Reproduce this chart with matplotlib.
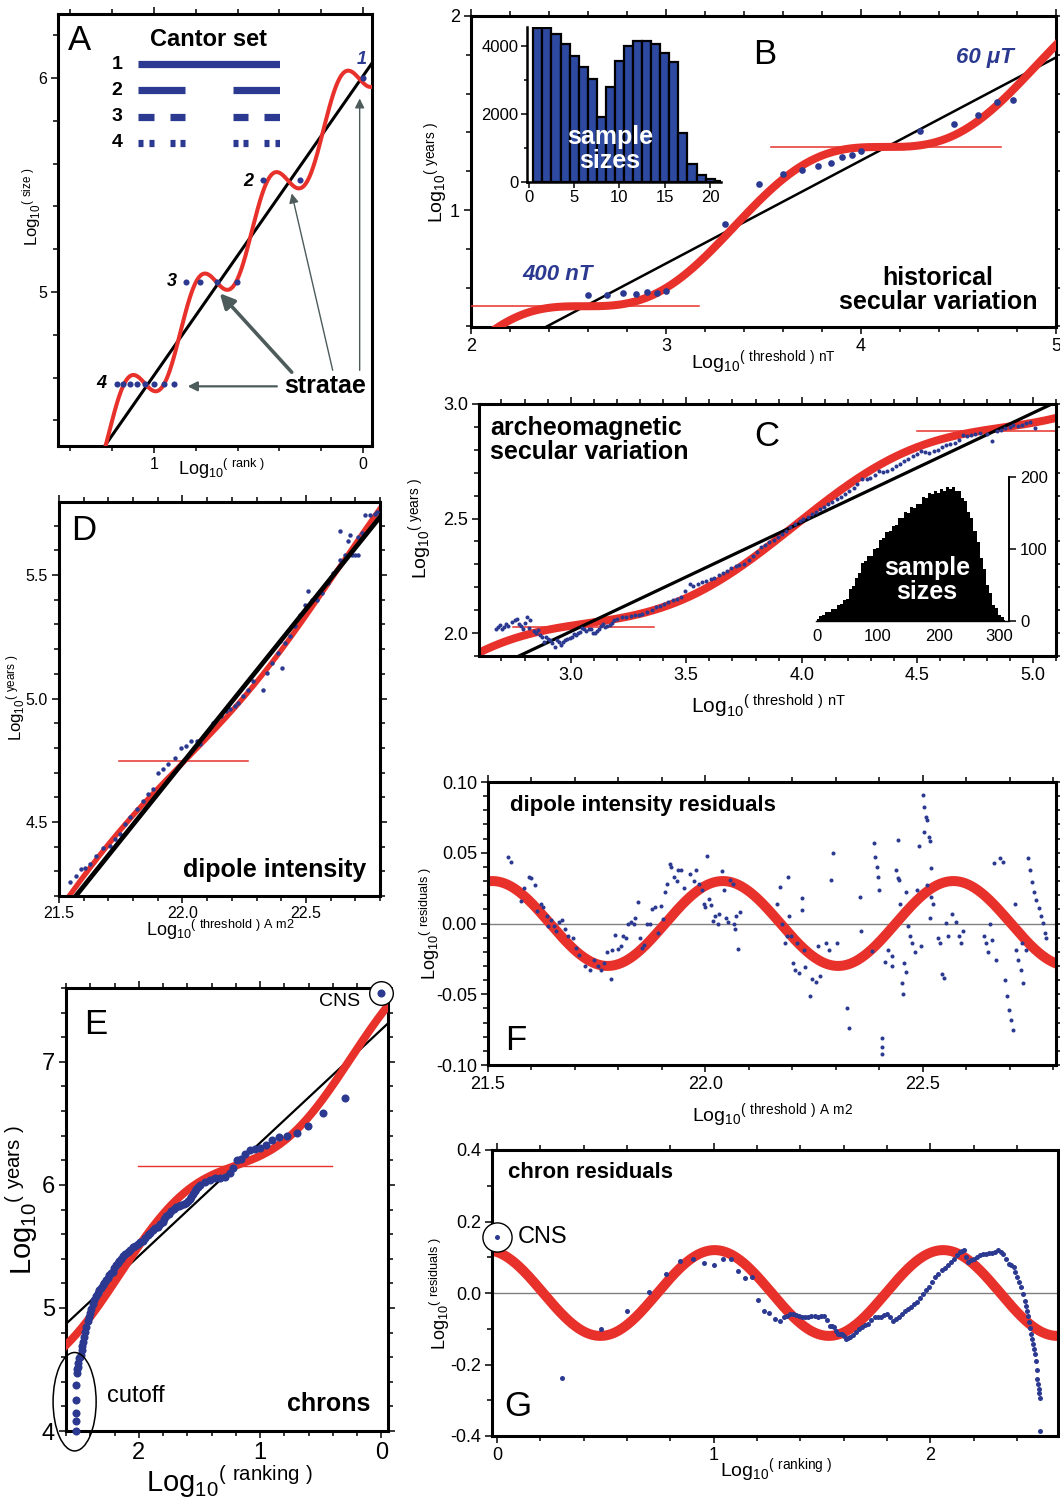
import numpy as np
import matplotlib
matplotlib.use("Agg")
import matplotlib.pyplot as plt
from matplotlib.ticker import MultipleLocator, FormatStrFormatter
from matplotlib.patches import Ellipse

plt.rcParams['font.family'] = ['Liberation Sans', 'DejaVu Sans']
plt.rcParams['mathtext.default'] = 'regular'
plt.rcParams['axes.unicode_minus'] = False

W, H = 1060, 1501
BLUE = '#2b3990'
RED = '#e8312b'
ARROW = '#4d5b5b'

# ---------------- data ----------------
# A: Cantor set rank-size
A_RANK = [1, 2, 3, 4, 5, 6, 7, 8, 9, 10, 11, 12, 13, 14, 15]
A_SIZE = [1000000, 333333, 333333, 111111, 111111, 111111, 111111,
          37037, 37037, 37037, 37037, 37037, 37037, 37037, 37037]
A_FIT = dict(x0=0.0, y0=6.01, slope=-1.40)
A_WAVE = dict(x0=0.0175, y0=5.997, slope=-1.385, amp=0.135, period=0.3425)
CANTOR = {1: [(0, 27)],
          2: [(0, 9), (18, 27)],
          3: [(0, 3), (6, 9), (18, 21), (24, 27)],
          4: [(0, 1), (2, 3), (6, 7), (8, 9), (18, 19), (20, 21), (24, 25), (26, 27)]}

# B: historical secular variation
B_THRESH_NT = [400, 500, 600, 700, 800, 900, 1000, 2000, 3000, 4000, 5000,
               6000, 7000, 8000, 9000, 10000, 20000, 30000, 40000, 50000, 60000]
B_LOGYEARS = [0.562, 0.564, 0.573, 0.566, 0.579, 0.574, 0.585, 0.928, 1.135, 1.185, 1.207,
              1.226, 1.241, 1.275, 1.284, 1.303, 1.405, 1.444, 1.491, 1.557, 1.566]
B_FIT = dict(x0=2.389, y0=0.40, slope=0.531)
B_WAVE = dict(x0=2.58, y0=0.504, slope=0.533, amp=-0.131, period=1.54)
B_STRATA = [(2.0, 3.17, 0.504), (3.54, 4.72, 1.325)]
B_HIST_BINS = [1, 2, 3, 4, 5, 6, 7, 8, 9, 10, 11, 12, 13, 14, 15, 16, 17, 18, 19, 20, 21]
B_HIST_COUNTS = [4510, 4510, 4330, 4040, 3710, 3380, 3010, 1910, 2790, 3550, 4000,
                 4150, 4150, 4040, 3800, 3510, 1450, 540, 220, 80, 40]

# C: archeomagnetic secular variation
C_X = [2.676, 2.685, 2.694, 2.703, 2.712, 2.720, 2.730, 2.745, 2.758, 2.767,
       2.776, 2.785, 2.794, 2.802, 2.810, 2.818, 2.825, 2.840, 2.850, 2.858,
       2.868, 2.876, 2.885, 2.894, 2.903, 2.912, 2.921, 2.931, 2.940, 2.949,
       2.958, 2.967, 2.976, 2.985, 2.995, 3.004, 3.013, 3.022, 3.031, 3.040,
       3.050, 3.058, 3.068, 3.077, 3.086, 3.095, 3.104, 3.113, 3.122, 3.131,
       3.140, 3.149, 3.158, 3.168, 3.177, 3.186, 3.200, 3.222, 3.240, 3.259,
       3.280, 3.295, 3.310, 3.332, 3.350, 3.368, 3.385, 3.404, 3.420, 3.441,
       3.460, 3.477, 3.495, 3.514, 3.530, 3.550, 3.568, 3.585, 3.605, 3.620,
       3.641, 3.660, 3.678, 3.695, 3.714, 3.730, 3.750, 3.770, 3.787, 3.805,
       3.823, 3.840, 3.860, 3.880, 3.896, 3.915, 3.933, 3.950, 3.969, 3.990,
       4.005, 4.025, 4.042, 4.060, 4.078, 4.095, 4.115, 4.130, 4.151, 4.170,
       4.188, 4.205, 4.224, 4.240, 4.260, 4.280, 4.297, 4.315, 4.333, 4.350,
       4.370, 4.390, 4.406, 4.425, 4.443, 4.460, 4.479, 4.500, 4.515, 4.535,
       4.552, 4.570, 4.588, 4.605, 4.625, 4.640, 4.661, 4.680, 4.698, 4.715,
       4.734, 4.750, 4.770, 4.800, 4.825, 4.843, 4.860, 4.880, 4.900, 4.916,
       4.935, 4.953, 4.970, 4.989, 5.007]
C_Y = [2.020, 2.028, 2.035, 2.018, 2.025, 2.040, 2.030, 2.048, 2.056, 2.062,
       2.040, 2.030, 2.017, 2.045, 2.070, 2.022, 2.056, 2.010, 2.000, 2.013,
       1.990, 1.984, 1.960, 1.984, 1.975, 1.970, 1.955, 1.941, 1.970, 1.962,
       1.950, 1.962, 1.968, 1.975, 1.980, 1.984, 1.995, 1.991, 2.000, 2.006,
       2.022, 2.016, 2.010, 2.016, 2.020, 2.001, 2.000, 2.010, 2.020, 2.030,
       2.040, 2.025, 2.030, 2.035, 2.045, 2.056, 2.060, 2.071, 2.070, 2.074,
       2.080, 2.078, 2.085, 2.092, 2.100, 2.114, 2.120, 2.129, 2.135, 2.143,
       2.150, 2.158, 2.185, 2.215, 2.205, 2.215, 2.223, 2.228, 2.237, 2.240,
       2.252, 2.262, 2.273, 2.283, 2.295, 2.298, 2.302, 2.320, 2.338, 2.355,
       2.374, 2.385, 2.396, 2.405, 2.418, 2.432, 2.447, 2.462, 2.475, 2.488,
       2.497, 2.508, 2.519, 2.530, 2.540, 2.552, 2.562, 2.572, 2.584, 2.595,
       2.605, 2.620, 2.634, 2.650, 2.671, 2.672, 2.678, 2.690, 2.707, 2.705,
       2.707, 2.718, 2.728, 2.738, 2.750, 2.762, 2.772, 2.780, 2.793, 2.790,
       2.786, 2.795, 2.801, 2.812, 2.822, 2.825, 2.829, 2.845, 2.866, 2.862,
       2.866, 2.870, 2.873, 2.868, 2.837, 2.880, 2.888, 2.895, 2.900, 2.909,
       2.905, 2.909, 2.915, 2.923, 2.895]
C_FIT = dict(x0=2.776, y0=1.90, slope=0.477)
C_WAVE = dict(x0=3.97, y0=2.47, slope=0.475, amp=0.094, period=1.8)
C_STRATA = [(2.75, 3.36, 2.025), (4.50, 5.12, 2.88)]
C_HIST_X = list(range(0, 315, 5))
C_HIST_Y = [3, 7, 8, 12, 12, 16, 16, 22, 23, 29, 31, 44, 48, 60, 66, 80, 83, 90, 90, 100, 101,
            112, 115, 124, 125, 132, 134, 143, 143, 151, 150, 158, 157, 163, 162, 172, 171,
            178, 176, 181, 178, 183, 180, 186, 183, 186, 181, 180, 171, 167, 152, 143, 125,
            110, 87, 72, 50, 39, 22, 18, 9, 6, 2]

# D: dipole intensity
D_X = [21.543, 21.570, 21.591, 21.604, 21.624, 21.651, 21.678, 21.705, 21.726, 21.746,
       21.766, 21.786, 21.814, 21.841, 21.861, 21.881, 21.901, 21.922, 21.942, 21.969,
       21.996, 22.016, 22.036, 22.057, 22.070, 22.124, 22.158, 22.178, 22.192, 22.212,
       22.226, 22.246, 22.266, 22.286, 22.327, 22.341, 22.361, 22.388, 22.395, 22.405,
       22.415, 22.435, 22.455, 22.476, 22.496, 22.509, 22.523, 22.543, 22.564, 22.591,
       22.611, 22.638, 22.658, 22.672, 22.685, 22.699, 22.712, 22.638, 22.678, 22.712,
       22.726, 22.739, 22.759, 22.780, 22.786]
D_Y = [4.255, 4.282, 4.309, 4.315, 4.329, 4.363, 4.396, 4.403, 4.430, 4.450,
       4.491, 4.518, 4.551, 4.585, 4.612, 4.632, 4.699, 4.713, 4.733, 4.760,
       4.801, 4.807, 4.827, 4.827, 4.814, 4.902, 4.929, 4.949, 4.956, 4.969,
       4.982, 5.009, 5.036, 5.070, 5.036, 5.104, 5.144, 5.185, 5.232, 5.124,
       5.225, 5.252, 5.292, 5.340, 5.380, 5.434, 5.400, 5.400, 5.427, 5.468,
       5.508, 5.562, 5.582, 5.636, 5.582, 5.582, 5.582, 5.677, 5.663, 5.656,
       5.670, 5.744, 5.744, 5.748, 5.757]
D_FIT = dict(x0=21.568, y0=4.20, slope=1.246)
D_WAVE = dict(x0=22.0, y0=4.738, slope=1.246, amp=-0.045, period=1.25)
D_STRATA = [(21.743, 22.264, 4.747)]

# E: chrons
E_X = [0.0, 0.298, 0.477, 0.601, 0.698, 0.775, 0.841, 0.905, 0.954, 1.001,
       1.043, 1.084, 1.120, 1.153, 1.189, 1.222, 1.250, 1.291, 1.332, 1.374,
       1.415, 1.457, 1.498, 1.512, 1.526, 1.540, 1.553, 1.567, 1.581, 1.595,
       1.608, 1.629, 1.650, 1.670, 1.691, 1.712, 1.732, 1.753, 1.774, 1.788,
       1.801, 1.822, 1.843, 1.864, 1.884, 1.905, 1.926, 1.946, 1.967, 1.988,
       2.008, 2.029, 2.050, 2.070, 2.091, 2.112, 2.132, 2.146, 2.160, 2.174,
       2.188, 2.202, 2.215, 2.229, 2.243, 2.257, 2.270, 2.284, 2.298, 2.312,
       2.326, 2.340, 2.353, 2.367, 2.381, 2.392, 2.403, 2.412, 2.422, 2.432,
       2.441, 2.450, 2.458, 2.464, 2.470, 2.480, 2.488, 2.495, 2.500, 2.505,
       2.510, 2.512, 2.515, 2.515, 2.515, 2.515, 2.515]
E_Y = [7.563, 6.709, 6.583, 6.480, 6.424, 6.401, 6.387, 6.365, 6.323, 6.303,
       6.295, 6.284, 6.247, 6.211, 6.205, 6.135, 6.099, 6.066, 6.057, 6.052,
       6.038, 6.024, 5.996, 5.982, 5.968, 5.947, 5.926, 5.905, 5.884, 5.870,
       5.856, 5.846, 5.836, 5.828, 5.819, 5.802, 5.786, 5.765, 5.744, 5.723,
       5.702, 5.681, 5.660, 5.646, 5.632, 5.611, 5.590, 5.569, 5.548, 5.534,
       5.520, 5.506, 5.492, 5.474, 5.455, 5.438, 5.422, 5.401, 5.380, 5.366,
       5.352, 5.324, 5.296, 5.282, 5.268, 5.247, 5.226, 5.205, 5.184, 5.163,
       5.142, 5.121, 5.100, 5.065, 5.030, 4.995, 4.960, 4.925, 4.890, 4.848,
       4.806, 4.764, 4.722, 4.690, 4.660, 4.620, 4.600, 4.590, 4.550, 4.520,
       4.500, 4.470, 4.370, 4.250, 4.150, 4.080, 4.000]
E_FIT = dict(x0=2.60, y0=4.870, slope=-0.920)
E_WAVE = dict(x0=1.2, y0=6.157, slope=-0.92, amp=0.172, period=1.9)
E_STRATA = [(0.408, 2.008, 6.157)]

# F: dipole intensity residuals
F_X = [21.545, 21.552, 21.576, 21.583, 21.594, 21.600, 21.608, 21.613, 21.622, 21.627,
       21.635, 21.639, 21.645, 21.651, 21.656, 21.664, 21.671, 21.677, 21.685, 21.695,
       21.703, 21.709, 21.724, 21.735, 21.743, 21.753, 21.760, 21.767, 21.774, 21.782,
       21.786, 21.793, 21.799, 21.806, 21.811, 21.818, 21.822, 21.828, 21.835, 21.839,
       21.844, 21.849, 21.854, 21.859, 21.866, 21.873, 21.878, 21.883, 21.890, 21.897,
       21.902, 21.907, 21.912, 21.919, 21.921, 21.928, 21.934, 21.938, 21.943, 21.950,
       21.965, 21.974, 21.979, 21.986, 21.991, 21.996, 21.999, 22.003, 22.008, 22.013,
       22.018, 22.023, 22.028, 22.032, 22.037, 22.042, 22.047, 22.052, 22.057, 22.063,
       22.065, 22.069, 22.071, 22.074, 22.079, 22.165, 22.172, 22.177, 22.182, 22.187,
       22.189, 22.191, 22.196, 22.201, 22.206, 22.211, 22.216, 22.221, 22.223, 22.227,
       22.230, 22.240, 22.244, 22.254, 22.259, 22.264, 22.278, 22.283, 22.288, 22.293,
       22.302, 22.326, 22.329, 22.355, 22.357, 22.384, 22.387, 22.389, 22.394, 22.397,
       22.399, 22.406, 22.406, 22.406, 22.413, 22.420, 22.428, 22.430, 22.437, 22.442,
       22.445, 22.442, 22.447, 22.452, 22.455, 22.457, 22.460, 22.461, 22.466, 22.471,
       22.476, 22.481, 22.486, 22.490, 22.495, 22.500, 22.503, 22.507, 22.510, 22.503,
       22.513, 22.517, 22.510, 22.517, 22.519, 22.524, 22.519, 22.534, 22.539, 22.544,
       22.548, 22.553, 22.558, 22.567, 22.577, 22.582, 22.587, 22.592, 22.640, 22.645,
       22.649, 22.654, 22.659, 22.664, 22.669, 22.678, 22.683, 22.688, 22.693, 22.698,
       22.703, 22.707, 22.712, 22.715, 22.719, 22.725, 22.727, 22.731, 22.736, 22.741,
       22.746, 22.751, 22.756, 22.761, 22.766, 22.771, 22.776, 22.780, 22.783]
F_Y = [0.0472, 0.0437, 0.016, 0.025, 0.033, 0.032, 0.027, 0.009, 0.014, 0.012,
       0.0056, -0.002, 0.0026, -0.002, -0.005, 0.0014, 0.0026, -0.004, -0.0085, -0.0103,
       -0.0174, -0.022, -0.030, -0.033, -0.026, -0.030, -0.033, -0.028, -0.020, -0.039,
       -0.019, -0.008, -0.018, -0.016, -0.009, -0.010, -0.0002, 0.0014, -0.0002, 0.0038,
       0.0155, -0.010, -0.017, -0.015, -0.0002, -0.0002, 0.010, 0.0115, -0.007, 0.0124,
       0.003, 0.0225, 0.028, 0.042, 0.040, 0.033, 0.030, 0.038, 0.038, 0.025,
       0.035, 0.030, 0.038, 0.028, 0.024, 0.014, 0.012, 0.048, 0.017, 0.013,
       0.002, 0.005, 0.0, 0.007, 0.037, 0.024, 0.004, 0.0014, 0.031, 0.028,
       0.0, -0.004, 0.005, -0.018, 0.008, 0.014, 0.026, 0.0, -0.014, -0.009,
       0.033, 0.005, -0.009, -0.028, -0.033, -0.014, -0.035, 0.018, 0.0096, -0.0185,
       -0.031, -0.051, -0.039, -0.041, -0.016, -0.037, -0.014, -0.0185, 0.031, 0.050,
       -0.014, -0.060, -0.074, 0.019, -0.0056, -0.0197, 0.0566, 0.047, 0.040, 0.033,
       0.024, -0.081, -0.087, -0.0925, -0.027, -0.0185, -0.023, -0.030, 0.038, 0.032,
       0.031, 0.059, 0.014, -0.042, -0.050, -0.028, -0.034, 0.0225, -0.002, -0.009,
       -0.014, -0.020, 0.024, 0.055, -0.016, 0.0906, 0.0824, 0.0754, 0.073, 0.065,
       0.061, 0.058, 0.027, 0.004, 0.019, 0.014, 0.039, -0.010, -0.014, -0.036,
       -0.0385, 0.0007, -0.009, 0.0068, 0.0014, -0.009, -0.014, -0.0056, -0.009, -0.014,
       -0.020, 0.0, -0.0115, 0.0425, -0.026, 0.046, 0.0437, -0.040, -0.051, -0.061,
       -0.068, -0.075, 0.014, -0.0185, -0.026, -0.033, -0.014, -0.042, -0.0185, 0.046,
       0.038, 0.0296, 0.0225, 0.0167, 0.0108, 0.005, 0.0002, -0.0068, -0.0103]
F_WAVE = dict(x0=21.9075, y0=0.0, slope=0.0, amp=0.03, period=0.53)

# G: chron residuals
G_X = [0.0, 0.30, 0.481, 0.601, 0.70, 0.781, 0.845, 0.903, 0.958, 1.0,
       1.042, 1.082, 1.114, 1.146, 1.179, 1.204, 1.232, 1.258, 1.283, 1.305,
       1.325, 1.339, 1.353, 1.367, 1.381, 1.395, 1.409, 1.423, 1.437, 1.452,
       1.466, 1.480, 1.494, 1.508, 1.522, 1.536, 1.546, 1.555, 1.565, 1.574,
       1.583, 1.592, 1.601, 1.611, 1.620, 1.630, 1.644, 1.658, 1.672, 1.686,
       1.700, 1.715, 1.729, 1.743, 1.757, 1.771, 1.785, 1.799, 1.813, 1.827,
       1.841, 1.855, 1.870, 1.884, 1.898, 1.912, 1.926, 1.940, 1.954, 1.968,
       1.982, 1.996, 2.010, 2.024, 2.038, 2.053, 2.067, 2.081, 2.095, 2.109,
       2.123, 2.137, 2.146, 2.156, 2.165, 2.175, 2.189, 2.203, 2.217, 2.231,
       2.245, 2.259, 2.273, 2.287, 2.301, 2.315, 2.326, 2.338, 2.350, 2.362,
       2.374, 2.387, 2.393, 2.400, 2.410, 2.419, 2.428, 2.438, 2.443, 2.447,
       2.452, 2.456, 2.461, 2.466, 2.470, 2.475, 2.480, 2.485, 2.488, 2.491,
       2.494, 2.497, 2.500, 2.503, 2.507, 2.507]
G_Y = [0.157, -0.237, -0.102, -0.049, 0.003, 0.054, 0.089, 0.096, 0.084, 0.078,
       0.094, 0.096, 0.062, 0.043, 0.045, -0.019, -0.051, -0.055, -0.072, -0.077,
       -0.066, -0.063, -0.060, -0.058, -0.061, -0.063, -0.066, -0.067, -0.066, -0.064,
       -0.065, -0.067, -0.064, -0.063, -0.075, -0.091, -0.093, -0.095, -0.105, -0.114,
       -0.115, -0.114, -0.121, -0.128, -0.126, -0.123, -0.117, -0.109, -0.102, -0.095,
       -0.090, -0.086, -0.076, -0.067, -0.066, -0.067, -0.062, -0.058, -0.068, -0.077,
       -0.072, -0.067, -0.058, -0.049, -0.044, -0.039, -0.032, -0.025, -0.013, -0.002,
       0.008, 0.017, 0.031, 0.045, 0.054, 0.063, 0.070, 0.077, 0.087, 0.096,
       0.106, 0.115, 0.118, 0.120, 0.100, 0.087, 0.091, 0.096, 0.101, 0.106,
       0.108, 0.110, 0.111, 0.112, 0.116, 0.120, 0.116, 0.110, 0.096, 0.082,
       0.078, 0.073, 0.060, 0.045, 0.030, 0.017, -0.002, -0.021, -0.035, -0.049,
       -0.065, -0.081, -0.098, -0.114, -0.128, -0.142, -0.156, -0.170, -0.189, -0.215,
       -0.240, -0.255, -0.268, -0.280, -0.293, -0.387]
G_WAVE = dict(x0=0.741, y0=0.0, slope=0.0, amp=0.12, period=1.055)


# ---------------- helpers ----------------
def wave(x, p):
    return p['y0'] + p['slope'] * (x - p['x0']) + p['amp'] * np.sin(2 * np.pi * (x - p['x0']) / p['period'])


def line(x, p):
    return p['y0'] + p['slope'] * (x - p['x0'])


def add_box(l, t, r, b):
    return fig.add_axes([l / W, 1 - b / H, (r - l) / W, (b - t) / H])


def ftext(px, py, s, **kw):
    ha = kw.pop('ha', 'center')
    va = kw.pop('va', 'center')
    fig.text(px / W, 1 - py / H, s, ha=ha, va=va, **kw)


def frame(ax, xlim, ylim, xt, yt, fmt, size, right=True):
    ax.set_xlim(*xlim)
    ax.set_ylim(*ylim)
    ax.xaxis.set_major_locator(MultipleLocator(xt[0]))
    ax.xaxis.set_minor_locator(MultipleLocator(xt[1]))
    ax.yaxis.set_major_locator(MultipleLocator(yt[0]))
    ax.yaxis.set_minor_locator(MultipleLocator(yt[1]))
    ax.xaxis.set_major_formatter(FormatStrFormatter(fmt[0]))
    ax.yaxis.set_major_formatter(FormatStrFormatter(fmt[1]))
    ax.tick_params(which='both', direction='out', top=True, right=right,
                   width=1.1, labelsize=size, pad=3)
    ax.tick_params(which='major', length=5)
    ax.tick_params(which='minor', length=3.5)
    for sp in ax.spines.values():
        sp.set_linewidth(2.2)


def curve_x(ax, n=800):
    lo, hi = sorted(ax.get_xlim())
    return np.linspace(lo, hi, n)


def loglab(word, unit=''):
    return r'Log$_{10}$$^{(\ ' + word + r'\ )' + unit + '}$'


fig = plt.figure(figsize=(W / 100, H / 100), dpi=100)

# ---------------- A ----------------
axA = add_box(58, 14, 372, 446)
frame(axA, (1.459, -0.043), (4.28, 6.30), (1, 0.2), (1, 0.2), ('%g', '%g'), 11.5, right=False)
xs = curve_x(axA)
axA.plot(xs, line(xs, A_FIT), color='black', lw=2.2, zorder=2)
axA.plot(xs, wave(xs, A_WAVE), color=RED, lw=2.9, zorder=3)
axA.plot(np.log10(A_RANK), np.log10(A_SIZE), 'o', color=BLUE, ms=4.4, mec='none', zorder=4)
arrows = [((0.412, 4.559), (0.839, 4.559), 1.6, 14),
          ((0.341, 4.625), (0.685, 4.994), 2.6, 22),
          ((0.145, 4.634), (0.341, 5.461), 1.0, 14),
          ((0.016, 4.634), (0.016, 5.905), 1.0, 14)]
for tail, head, lw, ms in arrows:
    axA.annotate('', xy=head, xytext=tail,
                 arrowprops=dict(arrowstyle='-|>', color=ARROW, lw=lw, mutation_scale=ms,
                                 shrinkA=0, shrinkB=0))
ftext(80, 40, 'A', fontsize=25)
ftext(209, 40, 'Cantor set', fontsize=17, fontweight='bold')
ftext(325, 386, 'stratae', fontsize=18, fontweight='bold')
ftext(362, 60, '1', fontsize=13, fontweight='bold', style='italic', color=BLUE)
ftext(248, 181, '2', fontsize=13, fontweight='bold', style='italic')
ftext(172, 282, '3', fontsize=13, fontweight='bold', style='italic')
ftext(101, 384, '4', fontsize=13, fontweight='bold', style='italic')
ftext(222, 469, loglab('rank'), fontsize=13)
ftext(32, 207, loglab('size'), fontsize=12, rotation=90)

# Cantor set legend bars
axK = add_box(138, 51, 280, 156)
axK.set_xlim(0, 27)
axK.set_ylim(4.5, 0.5)
axK.axis('off')
for level, segs in CANTOR.items():
    for a, b in segs:
        axK.plot([a, b], [level, level], color=BLUE, lw=5.2, solid_capstyle='butt')
    axK.text(-4.0, level, str(level), fontsize=14, fontweight='bold', ha='center', va='center')

# ---------------- B ----------------
axB = add_box(471, 16, 1056, 327)
frame(axB, (2.0, 5.0), (0.397, 2.0), (1, 0.2), (1, 0.2), ('%g', '%g'), 13)
xs = curve_x(axB)
axB.plot(xs, line(xs, B_FIT), color='black', lw=1.8, zorder=2)
axB.plot(xs, wave(xs, B_WAVE), color=RED, lw=5.8, zorder=3)
for x0, x1, y in B_STRATA:
    axB.plot([x0, x1], [y, y], color=RED, lw=1.1, zorder=3)
axB.plot(np.log10(B_THRESH_NT), B_LOGYEARS, 'o', color=BLUE, ms=4.8, mec='none', zorder=4)
ftext(765, 55, 'B', fontsize=25)
ftext(985, 58, '60 μT', fontsize=16, fontweight='bold', style='italic', color=BLUE)
ftext(558, 275, '400 nT', fontsize=16, fontweight='bold', style='italic', color=BLUE)
ftext(938, 290, 'historical\nsecular variation', fontsize=18, fontweight='bold',
      linespacing=1.05)
ftext(763, 362, loglab('threshold', r'\ nT'), fontsize=14)
ftext(436, 172, loglab('years'), fontsize=14, rotation=90)

axBi = add_box(527, 27, 721, 182)
axBi.set_facecolor('none')
axBi.bar(B_HIST_BINS, B_HIST_COUNTS, width=1.0, color='#2d4aa0', edgecolor='black', lw=1.6)
axBi.set_xlim(-0.2, 21.2)
axBi.set_ylim(0, 4550)
axBi.spines['top'].set_visible(False)
axBi.spines['right'].set_visible(False)
axBi.spines['left'].set_linewidth(1.8)
axBi.spines['bottom'].set_linewidth(1.8)
axBi.xaxis.set_major_locator(MultipleLocator(5))
axBi.yaxis.set_major_locator(MultipleLocator(2000))
axBi.yaxis.set_minor_locator(MultipleLocator(1000))
axBi.tick_params(which='both', direction='out', labelsize=12, pad=2, width=1.1)
axBi.tick_params(which='major', length=4)
axBi.tick_params(which='minor', length=2.5)
ftext(610, 149, 'sample\nsizes', fontsize=18, fontweight='bold', color='white', linespacing=1.05)

# ---------------- C ----------------
axC = add_box(479, 404, 1056, 656)
frame(axC, (2.603, 5.10), (1.90, 3.0), (0.5, 0.1), (0.5, 0.1), ('%.1f', '%.1f'), 13)
xs = curve_x(axC)
axC.plot(xs, wave(xs, C_WAVE), color=RED, lw=5.8, zorder=2)
for x0, x1, y in C_STRATA:
    axC.plot([x0, x1], [y, y], color=RED, lw=1.1, zorder=2)
axC.plot(xs, line(xs, C_FIT), color='black', lw=2.3, zorder=3)
axC.plot(C_X, C_Y, 'o', color=BLUE, ms=2.9, mec='none', zorder=4)
ftext(767, 437, 'C', fontsize=25)
ftext(490, 440, 'archeomagnetic\nsecular variation', fontsize=18, fontweight='bold',
      ha='left', linespacing=1.05)
ftext(768, 706, loglab('threshold', r'\ nT'), fontsize=15)
ftext(420, 528, loglab('years'), fontsize=14, rotation=90)

axCi = add_box(816, 477, 1009, 621)
axCi.set_facecolor('none')
axCi.fill_between(C_HIST_X, C_HIST_Y, step='mid', color='black', lw=0)
axCi.set_xlim(-2, 316)
axCi.set_ylim(0, 200)
axCi.spines['top'].set_visible(False)
axCi.spines['left'].set_visible(False)
axCi.spines['right'].set_linewidth(1.4)
axCi.spines['bottom'].set_linewidth(1.0)
axCi.xaxis.set_major_locator(MultipleLocator(100))
axCi.yaxis.set_major_locator(MultipleLocator(100))
axCi.yaxis.tick_right()
axCi.tick_params(axis='y', direction='out', length=5, width=1.1, labelsize=12, pad=3)
axCi.tick_params(axis='x', length=0, labelsize=12, pad=6)
ftext(927, 580, 'sample\nsizes', fontsize=18, fontweight='bold', color='white', linespacing=1.05)

# ---------------- D ----------------
axD = add_box(59, 502, 380, 896)
frame(axD, (21.5, 22.80), (4.20, 5.796), (0.5, 0.1), (0.5, 0.1), ('%.1f', '%.1f'), 11.5)
axD.tick_params(axis='x', pad=2)
xs = curve_x(axD)
axD.plot(xs, wave(xs, D_WAVE), color=RED, lw=3.8, zorder=2)
for x0, x1, y in D_STRATA:
    axD.plot([x0, x1], [y, y], color=RED, lw=1.1, zorder=2)
axD.plot(D_X, D_Y, 'o', color=BLUE, ms=3.2, mec='none', zorder=3)
axD.plot(xs, line(xs, D_FIT), color='black', lw=3.4, zorder=4)
ftext(84, 530, 'D', fontsize=25)
ftext(275, 870, 'dipole intensity', fontsize=18, fontweight='bold')
ftext(220, 930, loglab('threshold', r'\ A\ m2'), fontsize=13)
ftext(16, 698, loglab('years'), fontsize=12, rotation=90)

# ---------------- E ----------------
axE = add_box(66, 988, 388, 1431)
frame(axE, (2.60, -0.055), (4.0, 7.60), (1, 0.2), (1, 0.2), ('%g', '%g'), 17)
xs = curve_x(axE)
axE.plot(xs, line(xs, E_FIT), color='black', lw=1.6, zorder=2)
axE.plot(xs, wave(xs, E_WAVE), color=RED, lw=5.8, zorder=3)
for x0, x1, y in E_STRATA:
    axE.plot([x0, x1], [y, y], color=RED, lw=1.0, zorder=3)
axE.plot(E_X[0], E_Y[0], 'o', ms=17, mfc='white', mec='black', mew=1.0, zorder=5, clip_on=False)
axE.plot(E_X, E_Y, 'o', color=BLUE, ms=5.8, mec='none', zorder=6, clip_on=False)
axE.add_patch(Ellipse((2.529, 4.238), 0.355, 0.80, fill=False, ec='black', lw=1.1,
                      clip_on=False, zorder=6))
ftext(96, 1024, 'E', fontsize=25)
ftext(340, 1002, 'CNS', fontsize=14)
ftext(136, 1396, 'cutoff', fontsize=17)
ftext(329, 1404, 'chrons', fontsize=18, fontweight='bold')
ftext(230, 1482, loglab('ranking'), fontsize=21)
ftext(22, 1200, loglab('years'), fontsize=21, rotation=90)

# ---------------- F ----------------
axF = add_box(488, 782, 1056, 1065)
frame(axF, (21.5, 22.806), (-0.10, 0.10), (0.5, 0.1), (0.05, 0.01), ('%.1f', '%.2f'), 13)
xs = curve_x(axF)
axF.axhline(0, color='#808080', lw=1.0, zorder=1)
axF.plot(xs, wave(xs, F_WAVE), color=RED, lw=7.2, zorder=2)
axF.plot(F_X, F_Y, 'o', color=BLUE, ms=2.9, mec='none', zorder=3)
ftext(516, 1041, 'F', fontsize=25)
ftext(643, 805, 'dipole intensity residuals', fontsize=16, fontweight='bold')
ftext(772, 1115, loglab('threshold', r'\ A\ m2'), fontsize=14)
ftext(430, 923, loglab('residuals'), fontsize=13, rotation=90)

# ---------------- G ----------------
axG = add_box(492, 1150, 1058, 1436)
frame(axG, (-0.023, 2.59), (-0.4, 0.4), (1, 0.2), (0.2, 0.1), ('%g', '%.1f'), 13)
xs = curve_x(axG)
axG.axhline(0, color='#808080', lw=1.0, zorder=1)
axG.plot(xs, wave(xs, G_WAVE), color=RED, lw=7.2, zorder=2)
axG.plot(G_X[0], G_Y[0], 'o', ms=21, mfc='white', mec='black', mew=1.0, zorder=4, clip_on=False)
axG.plot(G_X, G_Y, 'o', color=BLUE, ms=3.6, mec='none', zorder=5, clip_on=False)
ftext(518, 1407, 'G', fontsize=25)
ftext(590, 1172, 'chron residuals', fontsize=16, fontweight='bold')
ftext(543, 1237, 'CNS', fontsize=17)
ftext(776, 1470, loglab('ranking'), fontsize=14)
ftext(440, 1293, loglab('residuals'), fontsize=13, rotation=90)

fig.savefig('out.png', dpi=100)
